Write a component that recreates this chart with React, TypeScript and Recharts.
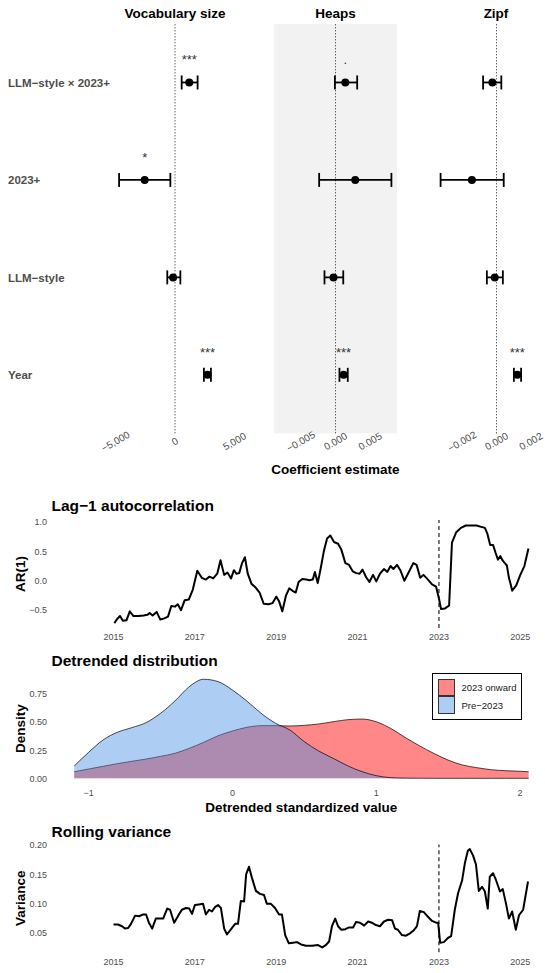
import React from "react";
import {
  ScatterChart,
  Scatter,
  ErrorBar,
  XAxis,
  YAxis,
  ReferenceLine,
  CartesianGrid,
  LineChart,
  Line,
  AreaChart,
  Area,
  Legend,
} from "recharts";

const FONT = '"Liberation Sans", Arial, Helvetica, sans-serif';
const AXIS_TEXT = "#4d4d4d";

// ---------- coefficient plot ----------
const terms = ["LLM−style × 2023+", "2023+", "LLM−style", "Year"];

const vocabEst = [1200, -2550, -160, 2730];
const vocabLo = [560, -4700, -650, 2430];
const vocabHi = [1900, -390, 450, 3020];
const vocabSig = ["***", "*", "", "***"];
const vocabTicks = [-5000, 0, 5000];
const vocabTickLabels = ["−5,000", "0", "5,000"];

const heapsEst = [0.00142, 0.00285, -0.00029, 0.00117];
const heapsLo = [-0.00009, -0.00236, -0.00159, 0.00057];
const heapsHi = [0.00313, 0.00807, 0.00112, 0.00177];
const heapsSig = [".", "", "", "***"];
const heapsTicks = [-0.005, 0, 0.005];
const heapsTickLabels = ["−0.005", "0.000", "0.005"];

const zipfEst = [-0.00024, -0.00143, -0.0001, 0.00121];
const zipfLo = [-0.00078, -0.00325, -0.00056, 0.00101];
const zipfHi = [0.00028, 0.00042, 0.00037, 0.00143];
const zipfSig = ["", "", "", "***"];
const zipfTicks = [-0.002, 0, 0.002];
const zipfTickLabels = ["−0.002", "0.000", "0.002"];

// ---------- time series ----------
const yearTicks = [2015, 2017, 2019, 2021, 2023, 2025];
const yearTickLabels = ["2015", "2017", "2019", "2021", "2023", "2025"];

const arT = [
  2015.02, 2015.09, 2015.16, 2015.23, 2015.32, 2015.4, 2015.49, 2015.61, 2015.74, 2015.83,
  2015.89, 2015.96, 2016.06, 2016.15, 2016.25, 2016.34, 2016.42, 2016.51, 2016.58, 2016.66,
  2016.75, 2016.85, 2016.95, 2017.06, 2017.17, 2017.27, 2017.36, 2017.45, 2017.55, 2017.63,
  2017.72, 2017.8, 2017.89, 2017.96, 2018.02, 2018.09, 2018.16, 2018.23, 2018.3, 2018.39,
  2018.5, 2018.59, 2018.69, 2018.81, 2018.91, 2019.0, 2019.07, 2019.15, 2019.24, 2019.32,
  2019.4, 2019.48, 2019.55, 2019.64, 2019.74, 2019.81, 2019.9, 2019.95, 2020.02, 2020.09,
  2020.17, 2020.25, 2020.33, 2020.42, 2020.52, 2020.6, 2020.7, 2020.79, 2020.88, 2020.97,
  2021.05, 2021.12, 2021.21, 2021.29, 2021.38, 2021.46, 2021.55, 2021.65, 2021.73, 2021.81,
  2021.88, 2021.97, 2022.05, 2022.15, 2022.26, 2022.37, 2022.45, 2022.54, 2022.62, 2022.73,
  2022.83, 2022.93, 2023.0, 2023.05, 2023.15, 2023.25, 2023.32, 2023.42, 2023.54, 2023.66,
  2023.92, 2024.13, 2024.19, 2024.26, 2024.33, 2024.39, 2024.45, 2024.51, 2024.56, 2024.62,
  2024.67, 2024.72, 2024.76, 2024.8, 2024.9, 2025.0, 2025.1, 2025.2,
];
const arV = [
  -0.72, -0.65, -0.6, -0.68, -0.67, -0.52, -0.6, -0.6, -0.59, -0.58,
  -0.55, -0.59, -0.53, -0.66, -0.64, -0.61, -0.43, -0.44, -0.4, -0.5,
  -0.33, -0.32, -0.15, 0.17, 0.05, 0.02, 0.07, 0.04, 0.12, 0.35,
  0.1, 0.14, 0.04, 0.18, 0.12, 0.13, 0.3, 0.4, 0.12, -0.05,
  -0.12, -0.2, -0.39, -0.4, -0.38, -0.27, -0.35, -0.52, -0.25, -0.13,
  -0.17, -0.2, -0.02, 0.03, 0.02, 0.01, 0.02, 0.15, -0.04, 0.2,
  0.5, 0.72, 0.77, 0.66, 0.63, 0.53, 0.3, 0.27, 0.16, 0.13,
  0.12, 0.19, 0.06, -0.02, 0.1, -0.01, 0.12, 0.2, 0.15, 0.25,
  0.2, 0.27, 0.18, 0.0, 0.15, 0.3, 0.27, 0.05, 0.1, 0.02,
  -0.06, -0.1, -0.3, -0.48, -0.47, -0.42, 0.65, 0.82, 0.9, 0.94,
  0.94, 0.9, 0.8, 0.61, 0.61, 0.48, 0.36, 0.42, 0.35, 0.3,
  0.26, 0.05, -0.05, -0.17, -0.08, 0.1, 0.25, 0.55,
];
const arTicks = [-0.5, 0, 0.5, 1];
const arTickLabels = ["−0.5", "0.0", "0.5", "1.0"];

const varT = [
  2015.0, 2015.11, 2015.21, 2015.28, 2015.36, 2015.43, 2015.53, 2015.63, 2015.73, 2015.8,
  2015.87, 2015.95, 2016.04, 2016.14, 2016.22, 2016.32, 2016.39, 2016.49, 2016.59, 2016.68,
  2016.78, 2016.86, 2016.93, 2017.0, 2017.1, 2017.2, 2017.27, 2017.35, 2017.42, 2017.5,
  2017.57, 2017.64, 2017.72, 2017.79, 2017.89, 2017.99, 2018.06, 2018.13, 2018.21, 2018.26,
  2018.33, 2018.4, 2018.5, 2018.6, 2018.7, 2018.77, 2018.87, 2018.97, 2019.07, 2019.14,
  2019.22, 2019.31, 2019.41, 2019.51, 2019.61, 2019.73, 2019.88, 2020.03, 2020.13, 2020.22,
  2020.3, 2020.37, 2020.45, 2020.52, 2020.6, 2020.7, 2020.79, 2020.89, 2020.96, 2021.06,
  2021.16, 2021.26, 2021.35, 2021.45, 2021.55, 2021.65, 2021.75, 2021.85, 2021.92, 2021.99,
  2022.09, 2022.19, 2022.29, 2022.38, 2022.46, 2022.53, 2022.63, 2022.73, 2022.83, 2022.93,
  2022.98, 2023.03, 2023.12, 2023.22, 2023.3, 2023.39, 2023.47, 2023.57, 2023.64, 2023.71,
  2023.76, 2023.84, 2023.91, 2023.98, 2024.06, 2024.13, 2024.2, 2024.25, 2024.33, 2024.4,
  2024.5, 2024.57, 2024.65, 2024.72, 2024.8, 2024.89, 2024.97, 2025.07, 2025.19,
];
const varV = [
  0.065, 0.065, 0.062, 0.058, 0.059, 0.066, 0.08, 0.079, 0.082, 0.082,
  0.068, 0.058, 0.075, 0.075, 0.075, 0.092, 0.09, 0.068, 0.08, 0.09,
  0.093, 0.092, 0.083, 0.098, 0.099, 0.1, 0.082, 0.09, 0.087, 0.095,
  0.098, 0.093, 0.058, 0.048, 0.057, 0.066, 0.066, 0.105, 0.104, 0.15,
  0.163, 0.145, 0.122, 0.117, 0.115, 0.1, 0.1, 0.093, 0.082, 0.082,
  0.047, 0.033, 0.034, 0.035, 0.031, 0.029, 0.029, 0.03, 0.026, 0.03,
  0.036, 0.062, 0.075, 0.062, 0.056, 0.057, 0.06, 0.06, 0.069, 0.068,
  0.063, 0.07, 0.068, 0.064, 0.062, 0.07, 0.073, 0.072, 0.058, 0.056,
  0.047, 0.046, 0.05, 0.055, 0.062, 0.088, 0.086, 0.078, 0.071, 0.068,
  0.068, 0.034, 0.035, 0.042, 0.045, 0.09, 0.118, 0.14, 0.17, 0.19,
  0.193, 0.182, 0.167, 0.122, 0.129, 0.121, 0.092, 0.146, 0.152, 0.141,
  0.121, 0.125, 0.1, 0.075, 0.087, 0.056, 0.081, 0.09, 0.138,
];
const varTicks = [0.05, 0.1, 0.15, 0.2];
const varTickLabels = ["0.05", "0.10", "0.15", "0.20"];

// ---------- density ----------
const densX = [
  -1.1, -1.0, -0.9, -0.8, -0.7, -0.6, -0.5, -0.4, -0.3, -0.2, -0.1, 0.0, 0.1, 0.2, 0.3, 0.4,
  0.5, 0.6, 0.7, 0.8, 0.9, 1.0, 1.1, 1.2, 1.3, 1.4, 1.5, 1.6, 1.7, 1.8, 1.9, 2.0, 2.06,
];
const densPost = [
  0.059, 0.083, 0.107, 0.131, 0.152, 0.172, 0.196, 0.223, 0.268, 0.321, 0.38, 0.422, 0.455,
  0.47, 0.47, 0.467, 0.473, 0.485, 0.505, 0.523, 0.529, 0.505, 0.446, 0.366, 0.291, 0.223,
  0.163, 0.119, 0.095, 0.077, 0.068, 0.063, 0.059,
];
const densPre = [
  0.11, 0.232, 0.342, 0.411, 0.452, 0.497, 0.58, 0.69, 0.818, 0.884, 0.863, 0.788, 0.69,
  0.58, 0.491, 0.431, 0.327, 0.244, 0.179, 0.113, 0.06, 0.024, 0.006, 0.002, 0.001, 0, 0,
  0, 0, 0, 0, 0, 0,
];
const densTicks = [-1, 0, 1, 2];
const densTickLabels = ["−1", "0", "1", "2"];
const densYTicks = [0, 0.25, 0.5, 0.75];
const densYTickLabels = ["0.00", "0.25", "0.50", "0.75"];
const densNames = ["2023 onward", "Pre−2023"];
const densFills = ["#FF0000", "#4A90E2"];
const densAlpha = [0.47, 0.45];

function rgba(hex: string, a: number) {
  const n = parseInt(hex.slice(1), 16);
  return `rgba(${(n >> 16) & 255},${(n >> 8) & 255},${n & 255},${a})`;
}

function fmt(ticks: number[], labels: string[]) {
  return (v: number) => {
    const i = ticks.indexOf(v);
    return i >= 0 ? labels[i] : String(v);
  };
}

const tickStyle = { fontSize: 9, fill: AXIS_TEXT, fontFamily: FONT };

function Facet(props: {
  est: number[];
  lo: number[];
  hi: number[];
  sig: string[];
  ticks: number[];
  tickLabels: string[];
  width: number;
  marginLeft: number;
  marginRight: number;
  labels?: boolean;
  shaded?: boolean;
}) {
  const { est, lo, hi, sig, ticks, tickLabels, labels, shaded } = props;
  const data = terms.map((term, i) => ({
    term,
    row: terms.length - i,
    est: est[i],
    err: [est[i] - lo[i], hi[i] - est[i]],
    sig: sig[i],
  }));
  const m = Math.max(...lo.map(Math.abs), ...hi.map(Math.abs)) * 1.1;
  return (
    <ScatterChart
      width={props.width}
      height={460}
      margin={{ top: 24, right: props.marginRight, bottom: 0, left: props.marginLeft }}
      style={{ overflow: "visible" }}
    >
      {shaded && (
        <CartesianGrid fill="#f2f2f2" stroke="none" horizontal={false} vertical={false} />
      )}
      <XAxis
        type="number"
        dataKey="est"
        domain={[-m, m]}
        allowDataOverflow
        ticks={ticks}
        interval={0}
        axisLine={false}
        tickLine={false}
        tickSize={6}
        tickMargin={2}
        height={26.7}
        tick={(p: any) => {
          const label = tickLabels[ticks.indexOf(p.payload.value)];
          return (
            <text
              x={p.x}
              y={p.y}
              transform={`rotate(-30 ${p.x} ${p.y})`}
              textAnchor="middle"
              dominantBaseline="central"
              fontSize={10}
              fill={AXIS_TEXT}
              fontFamily={FONT}
            >
              {label}
            </text>
          );
        }}
      />
      <YAxis
        type="number"
        dataKey="row"
        domain={[0.4, 4.6]}
        ticks={[1, 2, 3, 4]}
        interval={0}
        hide={!labels}
        width={labels ? 113.5 : 0}
        axisLine={false}
        tickLine={false}
        tick={(p: any) => (
          <text
            x={8}
            y={p.y}
            dy="0.36em"
            fontSize={11.5}
            fontWeight="bold"
            fill={AXIS_TEXT}
            fontFamily={FONT}
          >
            {terms[terms.length - p.payload.value]}
          </text>
        )}
      />
      <ReferenceLine x={0} stroke="#222" strokeDasharray="1 2" strokeWidth={1} />
      <Scatter
        data={data}
        isAnimationActive={false}
        shape={(p: any) => (
          <g>
            <circle cx={p.cx} cy={p.cy} r={4} fill="#000" />
            {p.payload.sig && (
              <text
                x={p.cx}
                y={p.cy - 18}
                textAnchor="middle"
                fontSize={13}
                fill="#333"
                fontFamily={FONT}
              >
                {p.payload.sig}
              </text>
            )}
          </g>
        )}
      >
        <ErrorBar dataKey="err" direction="x" width={7} stroke="#000" strokeWidth={1.8} />
      </Scatter>
    </ScatterChart>
  );
}

function SeriesPanel(props: {
  t: number[];
  v: number[];
  domain: [number, number];
  ticks: number[];
  tickLabels: string[];
  top: number;
  plotHeight: number;
}) {
  const data = props.t.map((t, i) => ({ t, v: props.v[i] }));
  return (
    <LineChart
      width={552}
      height={props.top + props.plotHeight + 24}
      data={data}
      margin={{ top: props.top, right: 0, bottom: 0, left: 0 }}
    >
      <XAxis
        type="number"
        dataKey="t"
        domain={[2013.451, 2025.779]}
        allowDataOverflow
        ticks={yearTicks}
        interval={0}
        tickFormatter={fmt(yearTicks, yearTickLabels)}
        axisLine={false}
        tickLine={false}
        tickSize={4}
        tickMargin={2}
        height={24}
        tick={tickStyle}
      />
      <YAxis
        type="number"
        domain={props.domain}
        allowDataOverflow
        ticks={props.ticks}
        interval={0}
        tickFormatter={fmt(props.ticks, props.tickLabels)}
        axisLine={false}
        tickLine={false}
        tickSize={1}
        tickMargin={2.5}
        width={50.5}
        tick={tickStyle}
      />
      <ReferenceLine x={2023} stroke="#222" strokeDasharray="4 3" strokeWidth={1.2} />
      <Line
        type="linear"
        dataKey="v"
        stroke="#000"
        strokeWidth={2}
        dot={false}
        strokeLinejoin="round"
        isAnimationActive={false}
      />
    </LineChart>
  );
}

function DensityPanel() {
  const data = densX.map((x, i) => ({ x, post: densPost[i], pre: densPre[i] }));
  return (
    <AreaChart
      width={552}
      height={19.1 + 109.2 + 16}
      data={data}
      margin={{ top: 19.1, right: 0, bottom: 0, left: 0 }}
    >
      <XAxis
        type="number"
        dataKey="x"
        domain={[-1.265, 2.2226]}
        allowDataOverflow
        ticks={densTicks}
        interval={0}
        tickFormatter={fmt(densTicks, densTickLabels)}
        axisLine={false}
        tickLine={false}
        tickSize={4}
        tickMargin={2}
        height={16}
        tick={tickStyle}
      />
      <YAxis
        type="number"
        domain={[-0.0443, 0.93]}
        allowDataOverflow
        ticks={densYTicks}
        interval={0}
        tickFormatter={fmt(densYTicks, densYTickLabels)}
        axisLine={false}
        tickLine={false}
        tickSize={1}
        tickMargin={2.5}
        width={50.5}
        tick={tickStyle}
      />
      <Legend
        layout="vertical"
        align="center"
        verticalAlign="middle"
        wrapperStyle={{ left: 431.7, top: 17.7, width: 90, height: 47.3 }}
        content={(p: any) => (
          <div
            style={{
              width: 90,
              height: 47.3,
              boxSizing: "border-box",
              border: "1px solid #000",
              background: "#fff",
              padding: "5.5px 0 0 5.5px",
              fontFamily: FONT,
            }}
          >
            {(p.payload || []).map((entry: any) => {
              const i = densNames.indexOf(entry.value);
              return (
                <div
                  key={entry.value}
                  style={{ display: "flex", alignItems: "center", height: 17.3 }}
                >
                  <div
                    style={{
                      width: 17.3,
                      height: 17.3,
                      boxSizing: "border-box",
                      border: "1px solid #333",
                      background: rgba(densFills[i], densAlpha[i]),
                    }}
                  />
                  <span style={{ marginLeft: 6, fontSize: 9.5, color: "#1a1a1a" }}>
                    {entry.value}
                  </span>
                </div>
              );
            })}
          </div>
        )}
      />
      <Area
        type="monotone"
        dataKey="post"
        name={densNames[0]}
        fill={densFills[0]}
        fillOpacity={densAlpha[0]}
        stroke="#000"
        strokeWidth={0.7}
        isAnimationActive={false}
      />
      <Area
        type="monotone"
        dataKey="pre"
        name={densNames[1]}
        fill={densFills[1]}
        fillOpacity={densAlpha[1]}
        stroke="#000"
        strokeWidth={0.7}
        isAnimationActive={false}
      />
    </AreaChart>
  );
}

const titleStyle = { fontFamily: FONT, fontWeight: 700, fill: "#000" } as const;

function Overlay() {
  const yTitle = (text: string, cy: number) => (
    <text
      transform={`translate(20.5 ${cy}) rotate(-90)`}
      y={4.9}
      textAnchor="middle"
      fontSize={13.5}
      {...titleStyle}
    >
      {text}
    </text>
  );
  return (
    <svg
      width={545}
      height={973}
      style={{ position: "absolute", left: 0, top: 0, pointerEvents: "none" }}
    >
      <text x={175} y={18.2} textAnchor="middle" fontSize={13.5} {...titleStyle}>
        Vocabulary size
      </text>
      <text x={335.5} y={18.2} textAnchor="middle" fontSize={13.5} {...titleStyle}>
        Heaps
      </text>
      <text x={496} y={18.2} textAnchor="middle" fontSize={13.5} {...titleStyle}>
        Zipf
      </text>
      <text x={335.5} y={473.5} textAnchor="middle" fontSize={13.5} {...titleStyle}>
        Coefficient estimate
      </text>
      <text x={51.5} y={510.6} fontSize={15.5} {...titleStyle}>
        Lag−1 autocorrelation
      </text>
      {yTitle("AR(1)", 574)}
      <text x={51.5} y={665.6} fontSize={15.5} {...titleStyle}>
        Detrended distribution
      </text>
      {yTitle("Density", 728.7)}
      <text x={301.25} y={811.6} textAnchor="middle" fontSize={13.5} {...titleStyle}>
        Detrended standardized value
      </text>
      <text x={51.5} y={837.3} fontSize={15.5} {...titleStyle}>
        Rolling variance
      </text>
      {yTitle("Variance", 898.3)}
    </svg>
  );
}

export default function App() {
  return (
    <div
      style={{
        position: "absolute",
        left: 0,
        top: 0,
        width: 545,
        height: 973,
        overflow: "hidden",
        background: "#fff",
        fontFamily: FONT,
      }}
    >
      <div style={{ position: "absolute", left: 0, top: 0 }}>
        <Facet
          est={vocabEst}
          lo={vocabLo}
          hi={vocabHi}
          sig={vocabSig}
          ticks={vocabTicks}
          tickLabels={vocabTickLabels}
          width={250}
          marginLeft={0}
          marginRight={13.5}
          labels
        />
      </div>
      <div style={{ position: "absolute", left: 264, top: 0 }}>
        <Facet
          est={heapsEst}
          lo={heapsLo}
          hi={heapsHi}
          sig={heapsSig}
          ticks={heapsTicks}
          tickLabels={heapsTickLabels}
          width={143}
          marginLeft={10}
          marginRight={10}
          shaded
        />
      </div>
      <div style={{ position: "absolute", left: 424.5, top: 0 }}>
        <Facet
          est={zipfEst}
          lo={zipfLo}
          hi={zipfHi}
          sig={zipfSig}
          ticks={zipfTicks}
          tickLabels={zipfTickLabels}
          width={143}
          marginLeft={10}
          marginRight={10}
        />
      </div>
      <div style={{ position: "absolute", left: 0, top: 500 }}>
        <SeriesPanel
          t={arT}
          v={arV}
          domain={[-0.8035, 1.0335]}
          ticks={arTicks}
          tickLabels={arTickLabels}
          top={20}
          plotHeight={108}
        />
      </div>
      <div style={{ position: "absolute", left: 0, top: 655 }}>
        <DensityPanel />
      </div>
      <div style={{ position: "absolute", left: 0, top: 825 }}>
        <SeriesPanel
          t={varT}
          v={varV}
          domain={[0.0179, 0.201]}
          ticks={varTicks}
          tickLabels={varTickLabels}
          top={19.4}
          plotHeight={107.8}
        />
      </div>
      <Overlay />
    </div>
  );
}
